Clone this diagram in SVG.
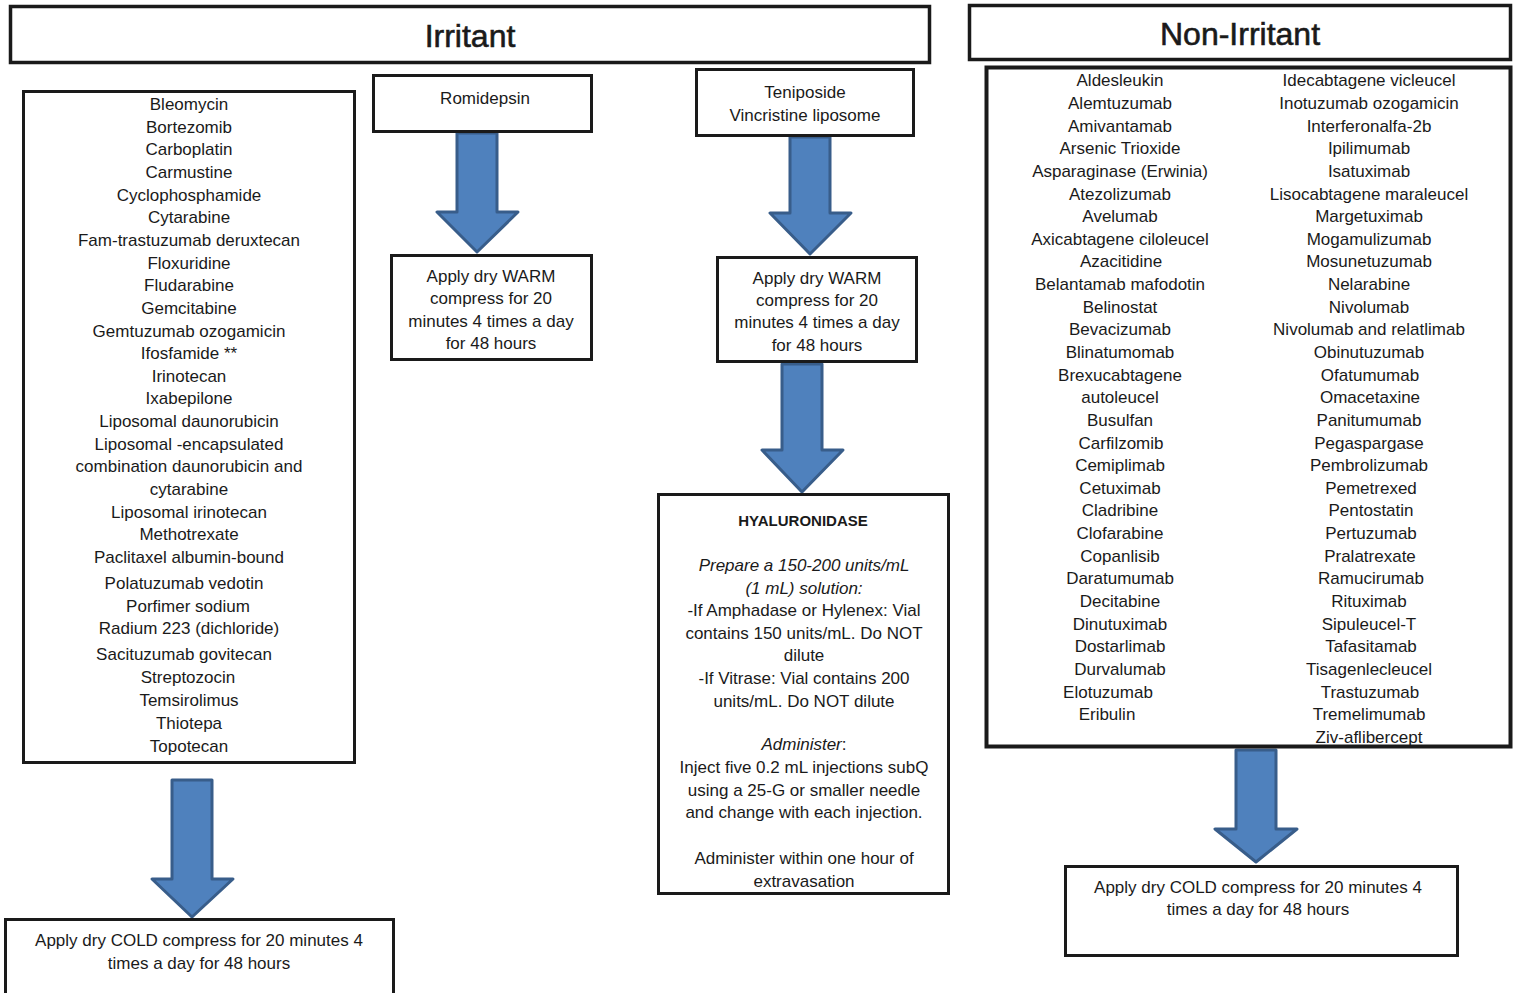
<svg xmlns="http://www.w3.org/2000/svg" width="1519" height="993" viewBox="0 0 1519 993">
<style>
.box{fill:#fff;stroke:#1a1a1a;stroke-width:3}
.hdr{fill:#fff;stroke:#1a1a1a;stroke-width:3.5}
.arr{fill:#4f81bd;stroke:#385d8a;stroke-width:3;stroke-linejoin:round}
text{font-family:"Liberation Sans",Arial,sans-serif;font-size:17px;fill:#1a1a1a;text-anchor:middle}
.h{font-size:32px;stroke:#1a1a1a;stroke-width:0.6}
.b{font-weight:bold;font-size:15px}
.i{font-style:italic}
</style>
<rect width="1519" height="993" fill="#fff"/>
<g id="connectors">
<polygon class="arr" points="457,133 497,133 497,212 518,212 477,252 437,212 457,212"/>
<polygon class="arr" points="790,137 830,137 830,213 851,213 810,254 770,213 790,213"/>
<polygon class="arr" points="782,364 822,364 822,450 843,450 802,492 762,450 782,450"/>
<polygon class="arr" points="172,780 212,780 212,879 233,879 192,917 152,879 172,879"/>
<polygon class="arr" points="1236,750 1276,750 1276,829 1297,829 1256,862 1215,829 1236,829"/>
</g>
<g id="irritant-header">
<rect class="hdr" x="10.5" y="6.5" width="919" height="56"/>
<text class="h" x="470" y="47">Irritant</text>
</g>
<g id="nonirritant-header">
<rect class="hdr" x="969.5" y="5.5" width="541" height="54"/>
<text class="h" x="1240" y="45">Non-Irritant</text>
</g>
<g id="irritant-list">
<rect class="box" x="23.5" y="91.5" width="331" height="671"/>
<text x="189" y="110">Bleomycin</text>
<text x="189" y="133">Bortezomib</text>
<text x="189" y="155">Carboplatin</text>
<text x="189" y="178">Carmustine</text>
<text x="189" y="201">Cyclophosphamide</text>
<text x="189" y="223">Cytarabine</text>
<text x="189" y="246">Fam-trastuzumab deruxtecan</text>
<text x="189" y="269">Floxuridine</text>
<text x="189" y="291">Fludarabine</text>
<text x="189" y="314">Gemcitabine</text>
<text x="189" y="337">Gemtuzumab ozogamicin</text>
<text x="189" y="359">Ifosfamide **</text>
<text x="189" y="382">Irinotecan</text>
<text x="189" y="404">Ixabepilone</text>
<text x="189" y="427">Liposomal daunorubicin</text>
<text x="189" y="450">Liposomal -encapsulated</text>
<text x="189" y="472">combination daunorubicin and</text>
<text x="189" y="495">cytarabine</text>
<text x="189" y="518">Liposomal irinotecan</text>
<text x="189" y="540">Methotrexate</text>
<text x="189" y="563">Paclitaxel albumin-bound</text>
<text x="184" y="589">Polatuzumab vedotin</text>
<text x="188" y="612">Porfimer sodium</text>
<text x="189" y="634">Radium 223 (dichloride)</text>
<text x="184" y="660">Sacituzumab govitecan</text>
<text x="188" y="683">Streptozocin</text>
<text x="189" y="706">Temsirolimus</text>
<text x="189" y="729">Thiotepa</text>
<text x="189" y="752">Topotecan</text>
</g>
<g id="romidepsin">
<rect class="box" x="373.5" y="75.5" width="218" height="56"/>
<text x="485" y="104">Romidepsin</text>
</g>
<g id="teniposide">
<rect class="box" x="696.5" y="69.5" width="217" height="66"/>
<text x="805" y="98">Teniposide</text>
<text x="805" y="121">Vincristine liposome</text>
</g>
<g id="warm1">
<rect class="box" x="391.5" y="255.5" width="200" height="104"/>
<text x="491" y="282">Apply dry WARM</text>
<text x="491" y="304">compress for 20</text>
<text x="491" y="327">minutes 4 times a day</text>
<text x="491" y="349">for 48 hours</text>
</g>
<g id="warm2">
<rect class="box" x="717.5" y="257.5" width="199" height="104"/>
<text x="817" y="284">Apply dry WARM</text>
<text x="817" y="306">compress for 20</text>
<text x="817" y="328">minutes 4 times a day</text>
<text x="817" y="351">for 48 hours</text>
</g>
<g id="hyaluronidase">
<rect class="box" x="658.5" y="494.5" width="290" height="399"/>
<text class="b" x="803" y="526">HYALURONIDASE</text>
<text class="i" x="804" y="571">Prepare a 150-200 units/mL</text>
<text class="i" x="804" y="594">(1 mL) solution:</text>
<text x="804" y="616">-If Amphadase or Hylenex: Vial</text>
<text x="804" y="639">contains 150 units/mL. Do NOT</text>
<text x="804" y="661">dilute</text>
<text x="804" y="684">-If Vitrase: Vial contains 200</text>
<text x="804" y="707">units/mL. Do NOT dilute</text>
<text x="804" y="750"><tspan class="i">Administer</tspan>:</text>
<text x="804" y="773">Inject five 0.2 mL injections subQ</text>
<text x="804" y="796">using a 25-G or smaller needle</text>
<text x="804" y="818">and change with each injection.</text>
<text x="804" y="864">Administer within one hour of</text>
<text x="804" y="887">extravasation</text>
</g>
<g id="nonirritant-list">
<rect x="986.5" y="67.5" width="524" height="679" fill="#fff" stroke="#1a1a1a" stroke-width="4"/>
<text x="1120" y="86">Aldesleukin</text>
<text x="1120" y="109">Alemtuzumab</text>
<text x="1120" y="132">Amivantamab</text>
<text x="1120" y="154">Arsenic Trioxide</text>
<text x="1120" y="177">Asparaginase (Erwinia)</text>
<text x="1120" y="200">Atezolizumab</text>
<text x="1120" y="222">Avelumab</text>
<text x="1120" y="245">Axicabtagene ciloleucel</text>
<text x="1121" y="267">Azacitidine</text>
<text x="1120" y="290">Belantamab mafodotin</text>
<text x="1120" y="313">Belinostat</text>
<text x="1120" y="335">Bevacizumab</text>
<text x="1120" y="358">Blinatumomab</text>
<text x="1120" y="381">Brexucabtagene</text>
<text x="1120" y="403">autoleucel</text>
<text x="1120" y="426">Busulfan</text>
<text x="1121" y="449">Carfilzomib</text>
<text x="1120" y="471">Cemiplimab</text>
<text x="1120" y="494">Cetuximab</text>
<text x="1120" y="516">Cladribine</text>
<text x="1120" y="539">Clofarabine</text>
<text x="1120" y="562">Copanlisib</text>
<text x="1120" y="584">Daratumumab</text>
<text x="1120" y="607">Decitabine</text>
<text x="1120" y="630">Dinutuximab</text>
<text x="1120" y="652">Dostarlimab</text>
<text x="1120" y="675">Durvalumab</text>
<text x="1108" y="698">Elotuzumab</text>
<text x="1107" y="720">Eribulin</text>
<text x="1369" y="86">Idecabtagene vicleucel</text>
<text x="1369" y="109">Inotuzumab ozogamicin</text>
<text x="1369" y="132">Interferonalfa-2b</text>
<text x="1369" y="154">Ipilimumab</text>
<text x="1369" y="177">Isatuximab</text>
<text x="1369" y="200">Lisocabtagene maraleucel</text>
<text x="1369" y="222">Margetuximab</text>
<text x="1369" y="245">Mogamulizumab</text>
<text x="1369" y="267">Mosunetuzumab</text>
<text x="1369" y="290">Nelarabine</text>
<text x="1369" y="313">Nivolumab</text>
<text x="1369" y="335">Nivolumab and relatlimab</text>
<text x="1369" y="358">Obinutuzumab</text>
<text x="1370" y="381">Ofatumumab</text>
<text x="1370" y="403">Omacetaxine</text>
<text x="1369" y="426">Panitumumab</text>
<text x="1369" y="449">Pegaspargase</text>
<text x="1369" y="471">Pembrolizumab</text>
<text x="1371" y="494">Pemetrexed</text>
<text x="1371" y="516">Pentostatin</text>
<text x="1371" y="539">Pertuzumab</text>
<text x="1370" y="562">Pralatrexate</text>
<text x="1371" y="584">Ramucirumab</text>
<text x="1369" y="607">Rituximab</text>
<text x="1369" y="630">Sipuleucel-T</text>
<text x="1371" y="652">Tafasitamab</text>
<text x="1369" y="675">Tisagenlecleucel</text>
<text x="1370" y="698">Trastuzumab</text>
<text x="1369" y="720">Tremelimumab</text>
<text x="1369" y="743">Ziv-aflibercept</text>
</g>
<g id="cold-irritant">
<rect class="box" x="5.5" y="919.5" width="388" height="80"/>
<text x="199" y="946">Apply dry COLD compress for 20 minutes 4</text>
<text x="199" y="969">times a day for 48 hours</text>
</g>
<g id="cold-nonirritant">
<rect class="box" x="1065.5" y="866.5" width="392" height="89"/>
<text x="1258" y="893">Apply dry COLD compress for 20 minutes 4</text>
<text x="1258" y="915">times a day for 48 hours</text>
</g>
</svg>
